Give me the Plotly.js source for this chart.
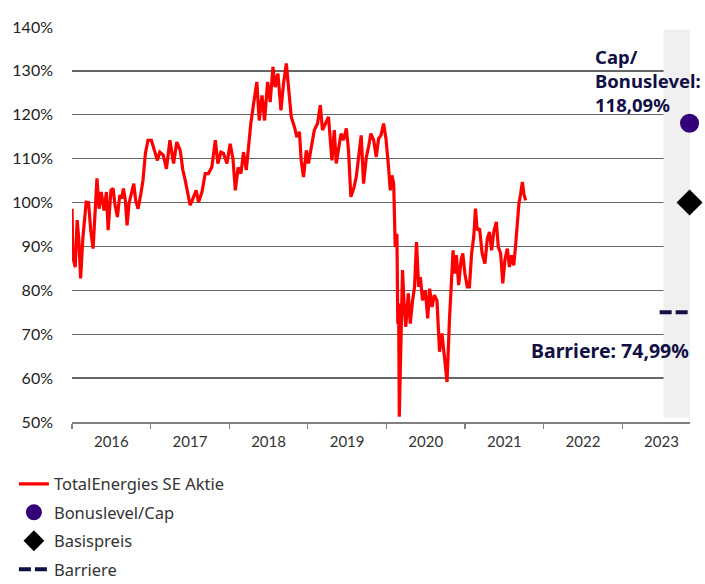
<!DOCTYPE html>
<html><head><meta charset="utf-8">
<script src="https://cdn.plot.ly/plotly-3.0.1.min.js"></script>
<style>html,body{margin:0;padding:0;background:#fff}#chart{width:705px;height:584px}</style>
</head><body><div id="chart"></div>
<script>
const dates = [
'2016-01-01','2016-01-05','2016-01-16','2016-01-25','2016-02-02','2016-02-10','2016-02-21','2016-03-01','2016-03-07','2016-03-18',
'2016-03-28','2016-04-08','2016-04-16','2016-04-26','2016-05-06','2016-05-16','2016-05-29','2016-06-09','2016-06-17','2016-06-30',
'2016-07-10','2016-07-18','2016-07-30','2016-08-10','2016-08-18','2016-08-27','2016-09-05','2016-09-13','2016-09-22','2016-10-03',
'2016-10-14','2016-10-23','2016-11-03','2016-11-16','2016-11-26','2016-12-07','2016-12-19',
'2017-01-04','2017-01-17','2017-02-01','2017-02-12','2017-02-28','2017-03-15','2017-03-31','2017-04-17','2017-05-02','2017-05-18',
'2017-05-30','2017-06-10','2017-06-25','2017-07-03','2017-07-16','2017-07-31','2017-08-11','2017-08-27','2017-09-11','2017-09-26',
'2017-10-12','2017-10-28','2017-11-09','2017-11-23','2017-12-05','2017-12-21',
'2018-01-05','2018-01-18','2018-01-29','2018-02-11','2018-02-24','2018-03-08','2018-03-21','2018-03-31','2018-04-11','2018-04-23',
'2018-05-09','2018-05-20','2018-06-02','2018-06-14','2018-06-28','2018-07-10','2018-07-23','2018-08-02','2018-08-15','2018-08-29',
'2018-09-10','2018-09-23','2018-10-03','2018-10-16','2018-10-31','2018-11-11','2018-11-23','2018-12-01','2018-12-12','2018-12-25',
'2019-01-04','2019-01-17','2019-01-31','2019-02-15','2019-02-28','2019-03-10','2019-03-23','2019-04-07','2019-04-23','2019-05-04',
'2019-05-13','2019-05-24','2019-06-04','2019-06-16','2019-06-29','2019-07-09','2019-07-20','2019-08-02','2019-08-14','2019-08-25',
'2019-09-06','2019-09-17','2019-09-30','2019-10-10','2019-10-21','2019-11-03','2019-11-15','2019-11-26','2019-12-07','2019-12-19',
'2019-12-30','2020-01-11','2020-01-19','2020-01-27','2020-02-04','2020-02-11','2020-02-19','2020-02-23','2020-02-27','2020-03-01',
'2020-03-09','2020-03-16','2020-03-24','2020-03-31','2020-04-12','2020-04-21','2020-05-02','2020-05-11','2020-05-20','2020-05-30',
'2020-06-07','2020-06-17','2020-06-30','2020-07-11','2020-07-20','2020-07-31','2020-08-11','2020-08-23','2020-09-04','2020-09-15',
'2020-09-26','2020-10-09','2020-10-20','2020-10-29','2020-11-06','2020-11-13','2020-11-21','2020-12-02','2020-12-13','2020-12-21',
'2020-12-31','2021-01-11','2021-01-21','2021-01-31','2021-02-10','2021-02-18','2021-02-26','2021-03-09','2021-03-21','2021-04-03',
'2021-04-14','2021-04-24','2021-05-04','2021-05-14','2021-05-26','2021-06-04','2021-06-15','2021-06-25','2021-07-05','2021-07-16',
'2021-07-26','2021-08-05','2021-08-15','2021-08-23','2021-08-31','2021-09-08','2021-09-16','2021-09-24','2021-10-01','2021-10-09'
];
const values = [
98.6,87.6,85.3,96,91.4,82.7,92.2,96,100.1,100,
93.7,89.5,98.2,105.5,98.6,102.4,98.2,102.4,93.7,102.8,
103.2,99.8,96.7,101.7,100.9,103.2,100.5,94.8,99.8,102.4,
104.3,100.5,98.6,102,105.1,111.2,114.2,
114.2,111.9,109.6,111.5,110.8,107.7,114.2,108.9,113.8,111.9,
107.4,105.1,101.7,99.4,100.9,102.8,100.1,102.4,106.6,106.6,
108.1,114.2,108.9,111.5,111.2,108.9,
113.4,110,102.8,108,106.6,111.5,107.4,113.4,118,122.2,
127.5,118.7,124.4,118.7,127.5,122.9,130.9,126.3,129.4,121,
127.1,131.7,125.6,119.5,117.2,114.9,116.1,109.6,105.8,111.9,
108.9,112.7,116.5,118,122.2,116.5,118,119.5,109.6,116.5,
108.9,112.7,115.7,114.2,116.9,111.9,101.3,103.2,105.8,110.4,
115.3,104.3,110.4,112.7,115.7,114.2,110.4,114.6,115.3,118,
114.6,108.1,102.8,106.2,104.3,89.9,92.9,72.4,77,51.2,
70.2,84.6,76.2,71.7,79.3,72.4,77.7,80.8,91,80.8,
83,77.7,80,73.6,80.4,76.2,78.9,77.7,66,70.2,
65.2,59.1,73.2,80.8,89.1,83.8,88,81.2,86.9,88.4,
83.8,80.8,80.8,88.4,92.2,98.6,93.7,94.1,88.4,86.1,
91.8,93.3,89.1,93.3,95.6,89.9,88.4,81.6,86.9,89.5,
85.3,88,85.7,89.9,94.4,99.8,102,104.7,102,100.5
];
const stockName = 'TotalEnergies SE Aktie';
const capName = 'Bonuslevel/Cap';
const basisName = 'Basispreis';
const barrierName = 'Barriere';
const capLevel = 118.09;
const basisLevel = 100;
const barrierLevel = 74.99;
const markerDate = ['2023-11-10'];
const barrierDates = ['2023-06-24','2023-11-05'];
const bandDates = ['2023-07-12','2023-11-12'];
const bandLevels = [51, 139.4];
const xRange = ['2016-01-01','2023-11-12'];
const yTickVals = [50,60,70,80,90,100,110,120,130,140];
const yTickText = ['50%','60%','70%','80%','90%','100%','110%','120%','130%','140%'];
const capLabel = 'Cap/<br>Bonuslevel:<br>118,09%';
const barrierLabel = 'Barriere: 74,99%';

const FONT = 'Lato, "Source Sans Pro", "Noto Sans", sans-serif';
const WIDE = '"Noto Sans", "Open Sans", sans-serif';
const NAVY = '#101044';

const traces = [
  {type:'scatter', mode:'lines', x:dates, y:values, name:stockName,
   line:{color:'#ff0000', width:3.2}, legendgroup:'a'},
  {type:'scatter', mode:'markers', x:markerDate, y:[capLevel], name:capName,
   marker:{symbol:'circle', size:19, color:'#33007a'}, cliponaxis:false, legendgroup:'b'},
  {type:'scatter', mode:'markers', x:markerDate, y:[basisLevel], name:basisName,
   marker:{symbol:'diamond', size:20, color:'#000000'}, cliponaxis:false, legendgroup:'c'},
  {type:'scatter', mode:'lines', x:barrierDates, y:[barrierLevel, barrierLevel], name:barrierName,
   line:{color:NAVY, width:4, dash:'12px,4px'}, cliponaxis:false, legendgroup:'d'}
];

const layout = {
  width:705, height:584,
  margin:{l:72, r:15, t:27, b:162, autoexpand:false},
  paper_bgcolor:'#ffffff', plot_bgcolor:'#ffffff',
  font:{family:FONT, size:16, color:'#222'},
  showlegend:true,
  legend:{x:-0.094, y:-0.113, xanchor:'left', yanchor:'top', orientation:'v',
    font:{family:WIDE, size:16.5, color:'#333'}, bgcolor:'rgba(0,0,0,0)',
    traceorder:'grouped', tracegroupgap:4},
  xaxis:{type:'date', range:xRange, tick0:'2016-01-01', dtick:'M12', tickformat:'%Y',
    ticklabelmode:'period', ticks:'outside', ticklen:5, tickcolor:'#808080', tickwidth:1.3,
    showline:true, linecolor:'#808080', linewidth:1.5, showgrid:false, zeroline:false,
    tickfont:{family:FONT, size:15, color:'#333'}},
  yaxis:{range:[50,140], tickvals:yTickVals, ticktext:yTickText, showgrid:true,
    gridcolor:'#666666', gridwidth:1.4, zeroline:false, showline:false, ticks:'',
    ticklabelstandoff:18, tickfont:{family:FONT, size:16, color:'#222'}},
  shapes:[
    {type:'rect', xref:'x', yref:'y', x0:bandDates[0], x1:bandDates[1], y0:bandLevels[0], y1:bandLevels[1],
     fillcolor:'#f0f0f0', line:{width:0}, layer:'between'}
  ],
  annotations:[
    {xref:'paper', yref:'y', x:0.843, y:127.9, xanchor:'left', yanchor:'middle', align:'left',
     text:'<b>'+capLabel+'</b>', showarrow:false, font:{family:WIDE, size:18.5, color:NAVY}},
    {xref:'paper', yref:'y', x:0.74, y:66.2, xanchor:'left', yanchor:'middle', align:'left',
     text:'<b>'+barrierLabel+'</b>', showarrow:false, font:{family:WIDE, size:19.5, color:NAVY}}
  ]
};

Plotly.newPlot('chart', traces, layout, {staticPlot:true, displayModeBar:false});
</script>
</body></html>
